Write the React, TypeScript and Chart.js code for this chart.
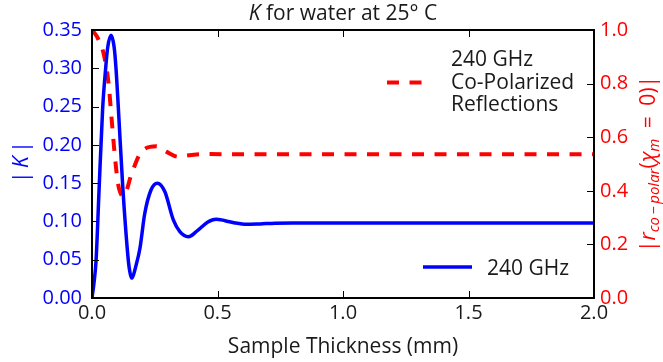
import React, { useEffect, useRef } from 'react';
import { Chart, registerables } from 'chart.js';

Chart.register(...registerables);

// Blue curve: |K| vs sample thickness (mm)
const thicknessK = [0, 0.008, 0.016, 0.029, 0.0425, 0.0544, 0.062, 0.0757, 0.088, 0.0956, 0.105, 0.122, 0.145, 0.152, 0.158, 0.165, 0.175, 0.191, 0.21, 0.235, 0.26, 0.29, 0.324, 0.35, 0.384, 0.42, 0.46, 0.494, 0.53, 0.57, 0.616, 0.67, 0.73, 0.8, 1.0, 1.5, 2.0];
const kValues = [0, 0.02, 0.048, 0.148, 0.248, 0.3, 0.326, 0.343, 0.328, 0.3, 0.248, 0.148, 0.048, 0.032, 0.026, 0.03, 0.042, 0.065, 0.11, 0.141, 0.15, 0.139, 0.102, 0.0866, 0.08, 0.088, 0.099, 0.103, 0.101, 0.098, 0.0962, 0.0968, 0.0976, 0.0979, 0.0979, 0.0979, 0.0979];

// Red dashed curve: |r co-polar| vs sample thickness (mm)
const thicknessR = [0, 0.02, 0.048, 0.066, 0.078, 0.092, 0.105, 0.125, 0.16, 0.197, 0.257, 0.296, 0.344, 0.364, 0.45, 0.6, 1.0, 1.5, 2.0];
const rValues = [1.0, 0.975, 0.905, 0.8, 0.67, 0.52, 0.42, 0.38, 0.47, 0.546, 0.566, 0.546, 0.527, 0.53, 0.537, 0.536, 0.536, 0.536, 0.536];

const xTicks = [0, 0.5, 1.0, 1.5, 2.0];
const kTicks = [0, 0.05, 0.1, 0.15, 0.2, 0.25, 0.3, 0.35];
const rTicks = [0, 0.2, 0.4, 0.6, 0.8, 1.0];

const titleRuns = [
  { text: 'K', italic: true },
  { text: ' for water at 25° C', italic: false },
];
const xTitle = 'Sample Thickness (mm)';
const legendRed = ['240 GHz', 'Co-Polarized', 'Reflections'];
const legendBlue = '240 GHz';

const FONT = '"Open Sans", Lato, "DejaVu Sans", sans-serif';
const TXT = '#1a1a1a';

type Run = { text: string; size: number; italic?: boolean; dy?: number };

function drawRuns(ctx: CanvasRenderingContext2D, runs: Run[], x: number, y: number, center: boolean) {
  let total = 0;
  const widths = runs.map((r) => {
    ctx.font = `${r.italic ? 'italic ' : ''}${r.size}px ${FONT}`;
    const w = ctx.measureText(r.text).width;
    total += w;
    return w;
  });
  let cx = center ? x - total / 2 : x;
  runs.forEach((r, i) => {
    ctx.font = `${r.italic ? 'italic ' : ''}${r.size}px ${FONT}`;
    ctx.fillText(r.text, cx, y + (r.dy || 0));
    cx += widths[i];
  });
}

const overlay = {
  id: 'overlay',
  afterDraw(chart: any) {
    const { ctx, chartArea: a, scales } = chart;
    const sx = scales.x, sy = scales.y, sy1 = scales.y1;
    ctx.save();
    ctx.strokeStyle = '#000';
    ctx.lineWidth = 1;
    const seg = (x1: number, y1: number, x2: number, y2: number) => {
      ctx.beginPath();
      ctx.moveTo(x1, y1);
      ctx.lineTo(x2, y2);
      ctx.stroke();
    };
    xTicks.forEach((v) => {
      const px = Math.round(sx.getPixelForValue(v)) + 0.5;
      seg(px, a.bottom, px, a.bottom - 7);
      seg(px, a.top, px, a.top + 7);
    });
    kTicks.forEach((v) => {
      const py = Math.round(sy.getPixelForValue(v)) + 0.5;
      seg(a.left, py, a.left + 7, py);
    });
    rTicks.forEach((v) => {
      const py = Math.round(sy1.getPixelForValue(v)) + 0.5;
      seg(a.right, py, a.right - 7, py);
    });
    // frame
    ctx.lineWidth = 2;
    ctx.strokeRect(a.left, a.top, a.right - a.left, a.bottom - a.top);

    // title
    ctx.fillStyle = TXT;
    ctx.textBaseline = 'alphabetic';
    ctx.textAlign = 'left';
    drawRuns(ctx, titleRuns.map((r) => ({ text: r.text, size: 21, italic: r.italic })), (a.left + a.right) / 2, 20, true);

    // x title
    drawRuns(ctx, [{ text: xTitle, size: 21 }], (a.left + a.right) / 2, 353, true);

    // left y title |K|
    ctx.save();
    ctx.translate(28, (a.top + a.bottom) / 2 - 2);
    ctx.rotate(-Math.PI / 2);
    ctx.fillStyle = 'blue';
    drawRuns(ctx, [
      { text: '|\u2009', size: 21 },
      { text: 'K', size: 21, italic: true },
      { text: '\u2009|', size: 21 },
    ], 0, 0, true);
    ctx.restore();

    // right y title
    ctx.save();
    ctx.translate(655, (a.top + a.bottom) / 2);
    ctx.rotate(-Math.PI / 2);
    ctx.fillStyle = 'red';
    drawRuns(ctx, [
      { text: '|', size: 21 },
      { text: 'r', size: 21, italic: true },
      { text: 'co\u2009\u2212\u2009polar', size: 15, italic: true, dy: 4 },
      { text: '(', size: 21 },
      { text: '\u03C7', size: 21, italic: true },
      { text: 'm', size: 15, italic: true, dy: 4 },
      { text: '\u2002=\u20020)|', size: 21 },
    ], 0, 0, true);
    ctx.restore();

    // legend - red
    ctx.fillStyle = TXT;
    ctx.font = `21px ${FONT}`;
    legendRed.forEach((t, i) => ctx.fillText(t, 451, 66 + i * 22.5));
    ctx.strokeStyle = 'red';
    ctx.lineWidth = 4;
    ctx.setLineDash([12, 10.5]);
    seg(387, 82.5, 422, 82.5);
    ctx.setLineDash([]);
    // legend - blue
    ctx.fillText(legendBlue, 487, 275);
    ctx.strokeStyle = 'blue';
    ctx.lineWidth = 3.5;
    seg(423, 267, 472, 267);
    ctx.restore();
  },
};

export default function App() {
  const ref = useRef<HTMLCanvasElement>(null);
  useEffect(() => {
    document.body.style.margin = '0';
    const canvas = ref.current!;
    const chart = new Chart(canvas, {
      type: 'line',
      data: {
        datasets: [
          {
            label: '240 GHz',
            data: thicknessK.map((x, i) => ({ x, y: kValues[i] })),
            borderColor: 'blue',
            borderWidth: 3.5,
            pointRadius: 0,
            cubicInterpolationMode: 'monotone',
            yAxisID: 'y',
            fill: false,
          },
          {
            label: '240 GHz Co-Polarized Reflections',
            data: thicknessR.map((x, i) => ({ x, y: rValues[i] })),
            borderColor: 'red',
            borderWidth: 4,
            borderDash: [12, 10.5],
            pointRadius: 0,
            cubicInterpolationMode: 'monotone',
            yAxisID: 'y1',
            fill: false,
          },
        ],
      },
      options: {
        animation: false,
        responsive: false,
        devicePixelRatio: 1,
        layout: { padding: { top: 30, left: 0, right: 0, bottom: 0 } },
        plugins: { legend: { display: false }, title: { display: false }, tooltip: { enabled: false } },
        scales: {
          x: {
            type: 'linear',
            min: 0,
            max: 2,
            afterBuildTicks: (s: any) => { s.ticks = xTicks.map((v) => ({ value: v })); },
            afterFit: (s: any) => { s.height = 64; },
            grid: { display: false, drawTicks: false },
            border: { display: false },
            ticks: {
              padding: 3,
              color: TXT,
              font: { family: FONT, size: 20 },
              maxRotation: 0,
              callback: (v: any) => Number(v).toFixed(1),
            },
          },
          y: {
            type: 'linear',
            position: 'left',
            min: 0,
            max: 0.35,
            afterBuildTicks: (s: any) => { s.ticks = kTicks.map((v) => ({ value: v })); },
            afterFit: (s: any) => { s.width = 92; },
            grid: { display: false, drawTicks: false },
            border: { display: false },
            ticks: {
              padding: 10,
              color: 'blue',
              font: { family: FONT, size: 20 },
              callback: (v: any) => Number(v).toFixed(2),
            },
          },
          y1: {
            type: 'linear',
            position: 'right',
            min: 0,
            max: 1,
            afterBuildTicks: (s: any) => { s.ticks = rTicks.map((v) => ({ value: v })); },
            afterFit: (s: any) => { s.width = 69; },
            grid: { display: false, drawTicks: false },
            border: { display: false },
            ticks: {
              padding: 6,
              color: 'red',
              font: { family: FONT, size: 20 },
              callback: (v: any) => Number(v).toFixed(1),
            },
          },
        },
      },
      plugins: [overlay],
    } as any);
    return () => chart.destroy();
  }, []);
  return (
    <div style={{ width: 663, height: 362 }}>
      <canvas ref={ref} width={663} height={362} style={{ display: 'block' }} />
    </div>
  );
}
